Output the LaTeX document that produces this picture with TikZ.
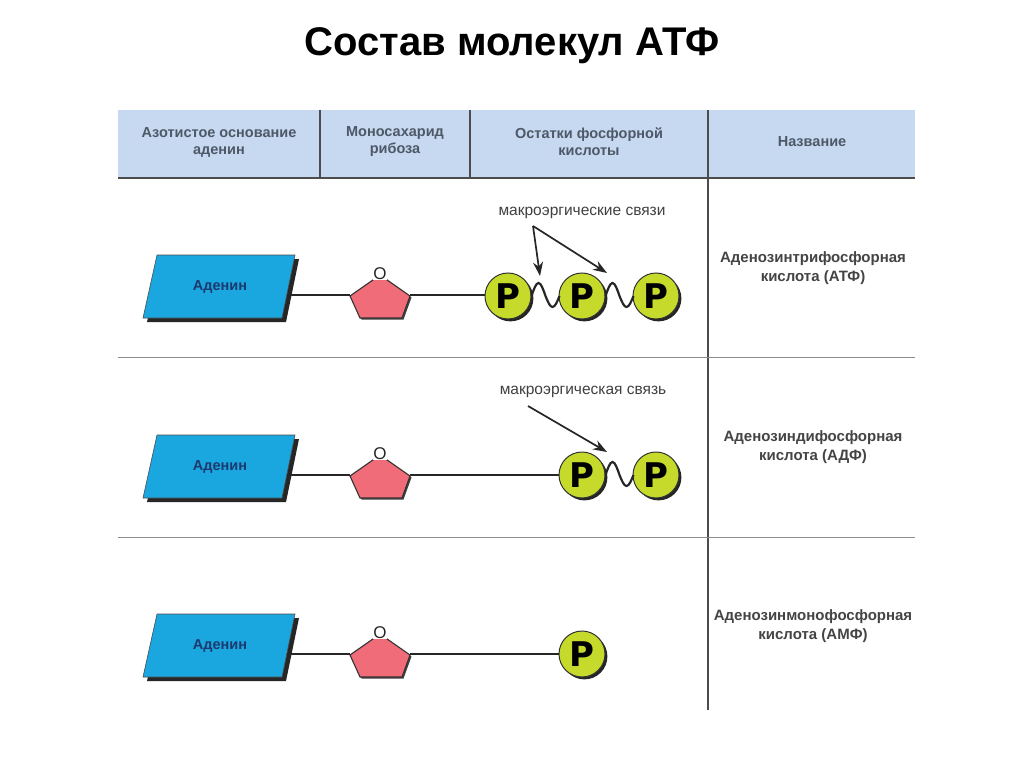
\documentclass[tikz,border=0pt]{standalone}
\usepackage{fontspec}
\setmainfont{Liberation Sans}
\newfontfamily\pfont{DejaVu Sans}
\usetikzlibrary{arrows.meta,shadows}
\definecolor{hdr}{HTML}{C6D9F1}
\definecolor{hdrtext}{HTML}{4E5866}
\definecolor{cyanbox}{HTML}{1AA6DE}
\definecolor{adetxt}{HTML}{1B3A70}
\definecolor{ribpink}{HTML}{F06C78}
\definecolor{pgreen}{HTML}{C6DA2C}
\definecolor{nametext}{HTML}{444444}
\begin{document}
\begin{tikzpicture}[x=1pt,y=-1pt,
  hdrlabel/.style={font=\bfseries\fontsize{14.5}{17}\selectfont, text=hdrtext, align=center},
  namelabel/.style={font=\bfseries\fontsize{15}{19}\selectfont, text=nametext, align=center},
  adetext/.style={font=\bfseries\fontsize{14.5}{16}\selectfont, text=adetxt},
  otext/.style={font=\fontsize{17}{17}\selectfont, fill=white, inner sep=0.2pt, text=black!85},
  pcirc/.style={circle, fill=pgreen, draw=black!80, line width=1pt, minimum size=46pt, inner sep=0pt,
    font=\pfont\bfseries\fontsize{34}{34}\selectfont,
    drop shadow={shadow xshift=2.4pt, shadow yshift=-2.4pt, fill=black, opacity=0.85}},
  bond/.style={line width=2.2pt, black!85},
  pointer/.style={line width=1.7pt, black!85, -{Stealth[length=14pt,width=10pt]}},
  gridline/.style={line width=1pt, black!45},
  hdrline/.style={line width=1.6pt, black!70},
  lbl/.style={font=\fontsize{15.5}{18}\selectfont, text=black!75}
]
\useasboundingbox (0,0) rectangle (1024,767);
\fill[white] (0,0) rectangle (1024,767);

% title
\node[font=\bfseries\fontsize{40}{46}\selectfont] (title) at (512,46) {Состав молекул АТФ};

% header
\fill[hdr] (118,110) rectangle (915,178);
\draw[hdrline] (118,178) -- (915,178);
\draw[hdrline] (320,110) -- (320,178);
\draw[hdrline] (470,110) -- (470,178);
\draw[hdrline] (708,110) -- (708,710);
\draw[gridline] (118,357) -- (915,357);
\draw[gridline] (118,537) -- (915,537);

\node[hdrlabel] (h1) at (219,142) {Азотистое основание\\аденин};
\node[hdrlabel] (h2) at (395,142) {Моносахарид\\рибоза};
\node[hdrlabel] (h3) at (589,142) {Остатки фосфорной\\кислоты};
\node[hdrlabel] (h4) at (812,142) {Название};

% rows: adenine + ribose
\foreach \r/\dy in {1/0,2/180,3/359}{
 \begin{scope}[shift={(0,\dy)}]
  \fill[black!85] (147,322)--(286,322)--(299,259)--(161,259)--cycle;
  \draw[black!70, line width=0.6pt, fill=cyanbox] (143,318)--(282,318)--(295,255)--(157,255)--cycle;
  \node[adetext] (ade\r) at (220,287) {Аденин};
  \coordinate (adeR\r) at (287,295);
  \fill[black!75] (381.5,276.5)--(411.5,297.5)--(403.5,319.5)--(361.5,319.5)--(351.5,297.5)--cycle;
  \draw[black!80, line width=1.1pt, fill=ribpink] (380,275)--(410,296)--(402,318)--(360,318)--(350,296)--cycle;
  \coordinate (ribL\r) at (350,295);
  \coordinate (ribR\r) at (410,295);
  \node[otext] (o\r) at (380,274) {O};
  \draw[bond] (adeR\r) -- (ribL\r);
 \end{scope}
}

% row 1: ATP
\node[pcirc] (p11) at (508,296) {P};
\node[pcirc] (p12) at (582,296) {P};
\node[pcirc] (p13) at (656,296) {P};
\draw[bond] (ribR1) -- (ribR1 -| p11.west);
\draw[bond] (p11.east) sin ++(7,-13) cos ++(7,13) sin ++(7,11) cos ++(7,-11);
\draw[bond] (p12.east) sin ++(7,-13) cos ++(7,13) sin ++(7,11) cos ++(7,-11);
\node[lbl] (lab1) at (582,213) {макроэргические связи};
\coordinate (a1) at (533,226);
\coordinate (t11) at (540,276);
\coordinate (t12) at (607,273);
\draw[pointer] (a1) -- (t11);
\draw[pointer] (a1) -- (t12);
\node[namelabel] (n1) at (813,268) {Аденозинтрифосфорная\\кислота (АТФ)};

% row 2: ADP
\node[pcirc] (p21) at (582,475) {P};
\node[pcirc] (p22) at (656,475) {P};
\draw[bond] (ribR2) -- (ribR2 -| p21.west);
\draw[bond] (p21.east) sin ++(7,-13) cos ++(7,13) sin ++(7,11) cos ++(7,-11);
\node[lbl] (lab2) at (583,392) {макроэргическая связь};
\coordinate (a2) at (528,406);
\coordinate (t2) at (607,452);
\draw[pointer] (a2) -- (t2);
\node[namelabel] (n2) at (813,447) {Аденозиндифосфорная\\кислота (АДФ)};

% row 3: AMP
\node[pcirc] (p31) at (582,654) {P};
\draw[bond] (ribR3) -- (ribR3 -| p31.west);
\node[namelabel] (n3) at (813,626) {Аденозинмонофосфорная\\кислота (АМФ)};
\end{tikzpicture}
\end{document}
